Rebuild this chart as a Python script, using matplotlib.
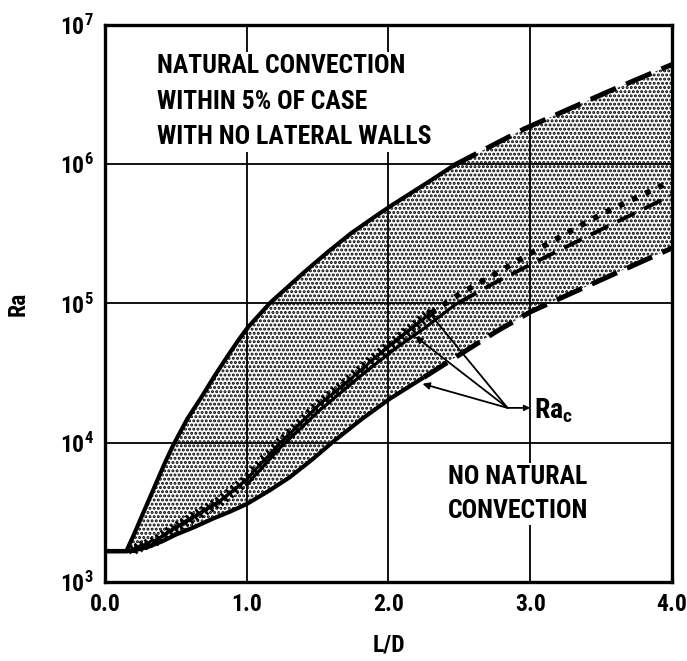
import numpy as np
import matplotlib
matplotlib.use("Agg")
import matplotlib.pyplot as plt
from matplotlib.ticker import NullLocator, FixedLocator

plt.rcParams['font.family'] = ['Roboto Condensed', 'Liberation Sans Narrow',
                               'Noto Sans Condensed', 'DejaVu Sans']
plt.rcParams['font.stretch'] = 'condensed'
plt.rcParams['font.weight'] = 'bold'
plt.rcParams['axes.labelweight'] = 'bold'
plt.rcParams['mathtext.default'] = 'regular'
plt.rcParams['hatch.linewidth'] = 1.45

# Lower boundary of the convection band (L/D, Ra)
lower_x = [0.0, 0.15, 0.22, 0.3, 0.4, 0.5, 0.62, 0.75, 0.87, 1.0, 1.15, 1.3, 1.45,
           1.6, 1.8, 2.0, 2.25, 2.5, 2.75, 3.0, 3.5, 4.0]
lower_ra = [1660, 1660, 1700, 1780, 1950, 2190, 2450, 2820, 3160, 3630, 4470, 5620,
            7400, 1.0e4, 1.45e4, 2.04e4, 2.95e4, 4.27e4, 6.2e4, 8.7e4, 1.48e5, 2.5e5]

# Upper boundary (within 5% of the case with no lateral walls)
upper_x = [0.15, 0.2, 0.25, 0.34, 0.42, 0.48, 0.58, 0.67, 0.76, 0.85, 0.93, 1.0,
           1.08, 1.16, 1.28, 1.4, 1.56, 1.73, 1.87, 2.0, 2.25, 2.46, 2.95, 3.5, 4.0]
upper_ra = [1660, 2140, 2820, 4570, 7080, 9550, 1.48e4, 2.04e4, 2.88e4, 3.98e4,
            5.25e4, 6.6e4, 8.1e4, 1.0e5, 1.29e5, 1.66e5, 2.29e5, 3.16e5, 3.98e5,
            4.9e5, 7.1e5, 9.8e5, 1.78e6, 3.16e6, 5.2e6]

# Critical Rayleigh number, solid/dashed branch
rac_x = [1.0, 1.23, 1.5, 1.8, 2.03, 2.25, 2.47, 2.75, 3.0, 3.5, 4.0]
rac_ra = [5000, 9100, 1.66e4, 3.0e4, 4.6e4, 6.6e4, 9.8e4, 1.41e5, 1.9e5,
          3.4e5, 6.0e5]

# Critical Rayleigh number, ticked/dotted branch
rac2_x = [0.2, 0.35, 0.5, 0.62, 0.8, 1.0, 1.23, 1.5, 1.8, 2.0, 2.25, 2.5, 2.75,
          3.0, 3.25, 3.5, 3.75, 4.0]
rac2_ra = [1740, 2000, 2510, 2950, 3800, 5500, 1.0e4, 1.86e4, 3.3e4, 5.0e4,
           7.9e4, 1.17e5, 1.62e5, 2.29e5, 3.16e5, 4.37e5, 5.75e5, 7.6e5]

x_ticks = [0.0, 1.0, 2.0, 3.0, 4.0]
x_tick_labels = ['0.0', '1.0', '2.0', '3.0', '4.0']
y_ticks = [1e3, 1e4, 1e5, 1e6, 1e7]
y_tick_labels = [r'$\mathregular{10^{3}}$', r'$\mathregular{10^{4}}$',
                 r'$\mathregular{10^{5}}$', r'$\mathregular{10^{6}}$',
                 r'$\mathregular{10^{7}}$']


def logcurve(xs, ys, grid):
    """Sample a curve that is straight between its points in log-space."""
    return 10 ** np.interp(grid, xs, np.log10(ys))


fig = plt.figure(figsize=(6.87, 6.61), dpi=100)
ax = fig.add_axes([0.1528, 0.1195, 0.8253, 0.8427])
ax.set_yscale('log')
ax.set_xlim(0, 4)
ax.set_ylim(1e3, 1e7)

# stippled band between the two boundaries
xf = np.linspace(upper_x[0], 4.0, 400)
ax.fill_between(xf, logcurve(lower_x, lower_ra, xf), logcurve(upper_x, upper_ra, xf),
                facecolor='none', edgecolor='black', hatch='....', linewidth=0,
                zorder=1)

lw_b = 3.0
dash = (5.5, 2.2)

# lower boundary: solid then dashed
xs = np.linspace(0, 2.25, 300)
ax.plot(xs, logcurve(lower_x, lower_ra, xs), color='black', lw=lw_b,
        solid_capstyle='butt', zorder=4)
xs = np.linspace(2.25, 4.0, 200)
ax.plot(xs, logcurve(lower_x, lower_ra, xs), color='black', lw=lw_b + 0.6,
        linestyle=(0, dash), zorder=4)

# upper boundary: solid then dashed
xs = np.linspace(upper_x[0], 2.45, 300)
ax.plot(xs, logcurve(upper_x, upper_ra, xs), color='black', lw=lw_b,
        solid_capstyle='butt', zorder=4)
xs = np.linspace(2.45, 4.0, 200)
ax.plot(xs, logcurve(upper_x, upper_ra, xs), color='black', lw=lw_b + 0.6,
        linestyle=(0, dash), zorder=4)

# Ra_c: solid then dashed
xs = np.linspace(rac_x[0], 2.5, 200)
ax.plot(xs, logcurve(rac_x, rac_ra, xs), color='black', lw=2.3, zorder=4)
xs = np.linspace(2.5, 4.0, 200)
ax.plot(xs, logcurve(rac_x, rac_ra, xs), color='black', lw=2.8,
        linestyle=(0, (5.0, 2.6)), zorder=4)

# Ra_c: ticked branch then heavy dots
xs = np.linspace(rac2_x[0], 2.3, 60)
ax.plot(xs, logcurve(rac2_x, rac2_ra, xs), color='black', lw=1.2, marker='x',
        markersize=5.5, markeredgewidth=1.8, zorder=4)
xs = np.linspace(2.3, 4.0, 200)
ax.plot(xs, logcurve(rac2_x, rac2_ra, xs), color='black', lw=4.0,
        linestyle=(0, (1.0, 1.6)), dash_capstyle='butt', zorder=4)

# flat start of the curves
ax.plot([0.0, 0.2], [1660, 1660], color='black', lw=lw_b, zorder=4)

# grid and frame
ax.xaxis.set_major_locator(FixedLocator(x_ticks))
ax.yaxis.set_major_locator(FixedLocator(y_ticks))
ax.yaxis.set_minor_locator(NullLocator())
ax.set_xticklabels(x_tick_labels)
ax.set_yticklabels(y_tick_labels)
ax.grid(True, which='major', color='black', lw=1.3)
ax.tick_params(axis='both', which='major', direction='in', length=0,
               labelsize=17, pad=8)
for s in ax.spines.values():
    s.set_linewidth(2.4)

ax.set_xlabel('L/D', fontsize=17)
ax.set_ylabel('Ra', fontsize=17)
ax.xaxis.set_label_coords(0.5, -0.092)
ax.yaxis.set_label_coords(-0.133, 0.5)

box = dict(facecolor='white', edgecolor='none', pad=1.5)
ax.text(0.367, 6.2e6, 'NATURAL CONVECTION\nWITHIN 5% OF CASE\nWITH NO LATERAL WALLS',
        fontsize=18.5, ha='left', va='top', linespacing=1.62, bbox=box, zorder=5)
ax.text(2.42, 6.9e3, 'NO NATURAL\nCONVECTION', fontsize=18.5, ha='left', va='top',
        linespacing=1.5, bbox=box, zorder=5)

# Ra_c label with leaders to the curves
origin = (2.84, 1.78e4)
ax.text(3.03, 1.5e4, r'$\mathregular{Ra_c}$', fontsize=20, ha='left',
        va='baseline', bbox=dict(facecolor='white', edgecolor='none', pad=1),
        zorder=5)
ax.annotate('', xy=(3.0, origin[1]), xytext=origin,
            arrowprops=dict(arrowstyle='-|>', color='black', lw=1.3,
                            mutation_scale=8, shrinkA=0, shrinkB=0), zorder=6)
for tgt in [(2.27, 9.0e4), (2.19, 5.8e4), (2.24, 2.65e4)]:
    ax.annotate('', xy=tgt, xytext=origin,
                arrowprops=dict(arrowstyle='-|>', color='black', lw=1.3,
                                mutation_scale=10, shrinkA=0, shrinkB=0),
                zorder=6)

fig.savefig('out.png', dpi=100, facecolor='white')
